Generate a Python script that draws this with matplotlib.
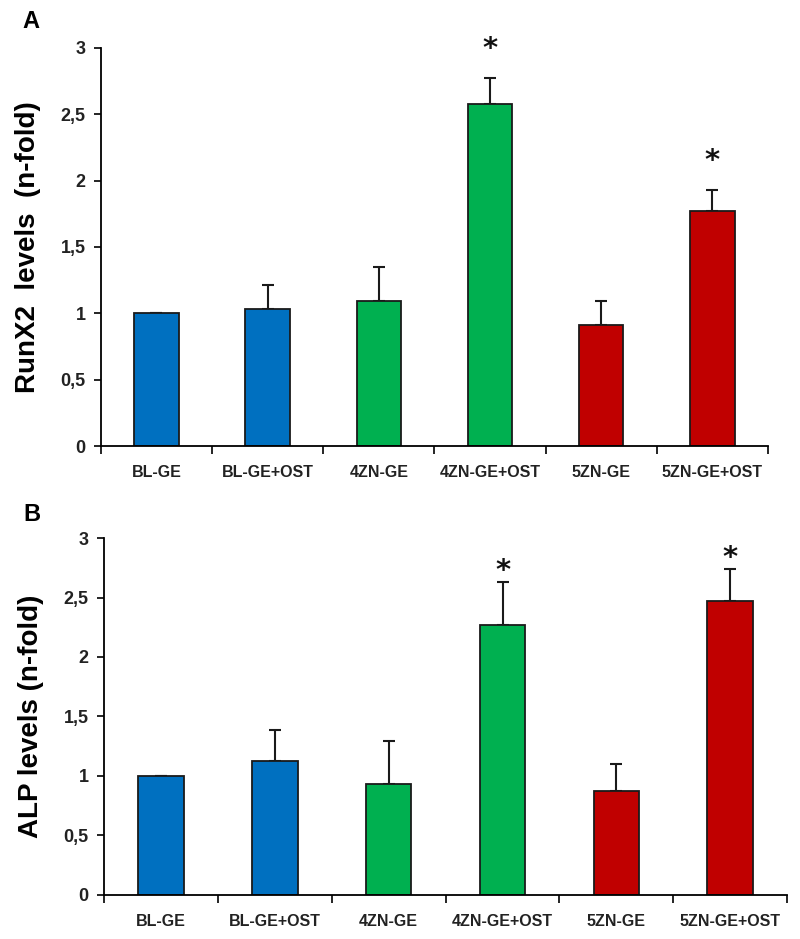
import matplotlib.pyplot as plt
from matplotlib.ticker import FuncFormatter, FixedLocator

groups = ["BL-GE", "BL-GE+OST", "4ZN-GE", "4ZN-GE+OST", "5ZN-GE", "5ZN-GE+OST"]
colors = ["#0070C0", "#0070C0", "#00B050", "#00B050", "#C00000", "#C00000"]

runx2_mean = [1.0, 1.03, 1.09, 2.575, 0.91, 1.77]
runx2_err = [0.0, 0.18, 0.26, 0.20, 0.18, 0.16]
runx2_star = [False, False, False, True, False, True]

alp_mean = [1.0, 1.125, 0.93, 2.265, 0.875, 2.47]
alp_err = [0.0, 0.265, 0.365, 0.365, 0.225, 0.27]
alp_star = [False, False, False, True, False, True]

plt.rcParams['font.family'] = ['Liberation Sans', 'DejaVu Sans']

fig = plt.figure(figsize=(8, 9.39), dpi=100)
axA = fig.add_axes([0.126, 0.525, 0.834, 0.424])
axB = fig.add_axes([0.130, 0.047, 0.854, 0.380])


def draw_panel(ax, means, errs, stars, ylabel, star_gap):
    x = list(range(len(groups)))
    ax.bar(x, means, width=0.4, color=colors, edgecolor="#1a1a1a", linewidth=1.3, zorder=2)
    ax.errorbar(x, means, yerr=[[0] * len(errs), errs], fmt="none", ecolor="#1a1a1a",
                elinewidth=1.5, capsize=4, capthick=1.5, zorder=1)
    for i, s in enumerate(stars):
        if s:
            ax.text(i, means[i] + errs[i] + star_gap, "*", ha="center", va="center",
                    fontsize=21, fontweight="bold", fontfamily="DejaVu Sans", color="#111111")
    ax.set_xlim(-0.5, len(groups) - 0.5)
    ax.set_ylim(0, 3)
    ax.set_yticks([0, 0.5, 1, 1.5, 2, 2.5, 3])
    ax.yaxis.set_major_formatter(FuncFormatter(lambda v, p: ("%g" % v).replace(".", ",")))
    ax.set_xticks(x)
    ax.set_xticklabels(groups)
    ax.xaxis.set_minor_locator(FixedLocator([i - 0.5 for i in range(len(groups) + 1)]))
    ax.tick_params(axis="x", which="major", length=0, pad=14, labelsize=11.5, labelcolor="#222222")
    ax.tick_params(axis="x", which="minor", length=6, width=1.2, direction="out")
    ax.tick_params(axis="y", length=5, width=1.2, direction="out", pad=6, labelsize=13, labelcolor="#222222")
    for lbl in ax.get_yticklabels() + ax.get_xticklabels():
        lbl.set_fontweight("bold")
    ax.spines["top"].set_visible(False)
    ax.spines["right"].set_visible(False)
    ax.spines["left"].set_linewidth(1.3)
    ax.spines["bottom"].set_linewidth(1.3)
    ax.set_ylabel(ylabel, fontsize=20, fontweight="bold", labelpad=14)


draw_panel(axA, runx2_mean, runx2_err, runx2_star, "RunX2  levels  (n-fold)", 0.22)
draw_panel(axB, alp_mean, alp_err, alp_star, "ALP levels (n-fold)", 0.09)

fig.text(0.039, 0.977, "A", fontsize=17, fontweight="bold", ha="center", va="center")
fig.text(0.040, 0.452, "B", fontsize=17, fontweight="bold", ha="center", va="center")

fig.savefig("out.png", dpi=100)
